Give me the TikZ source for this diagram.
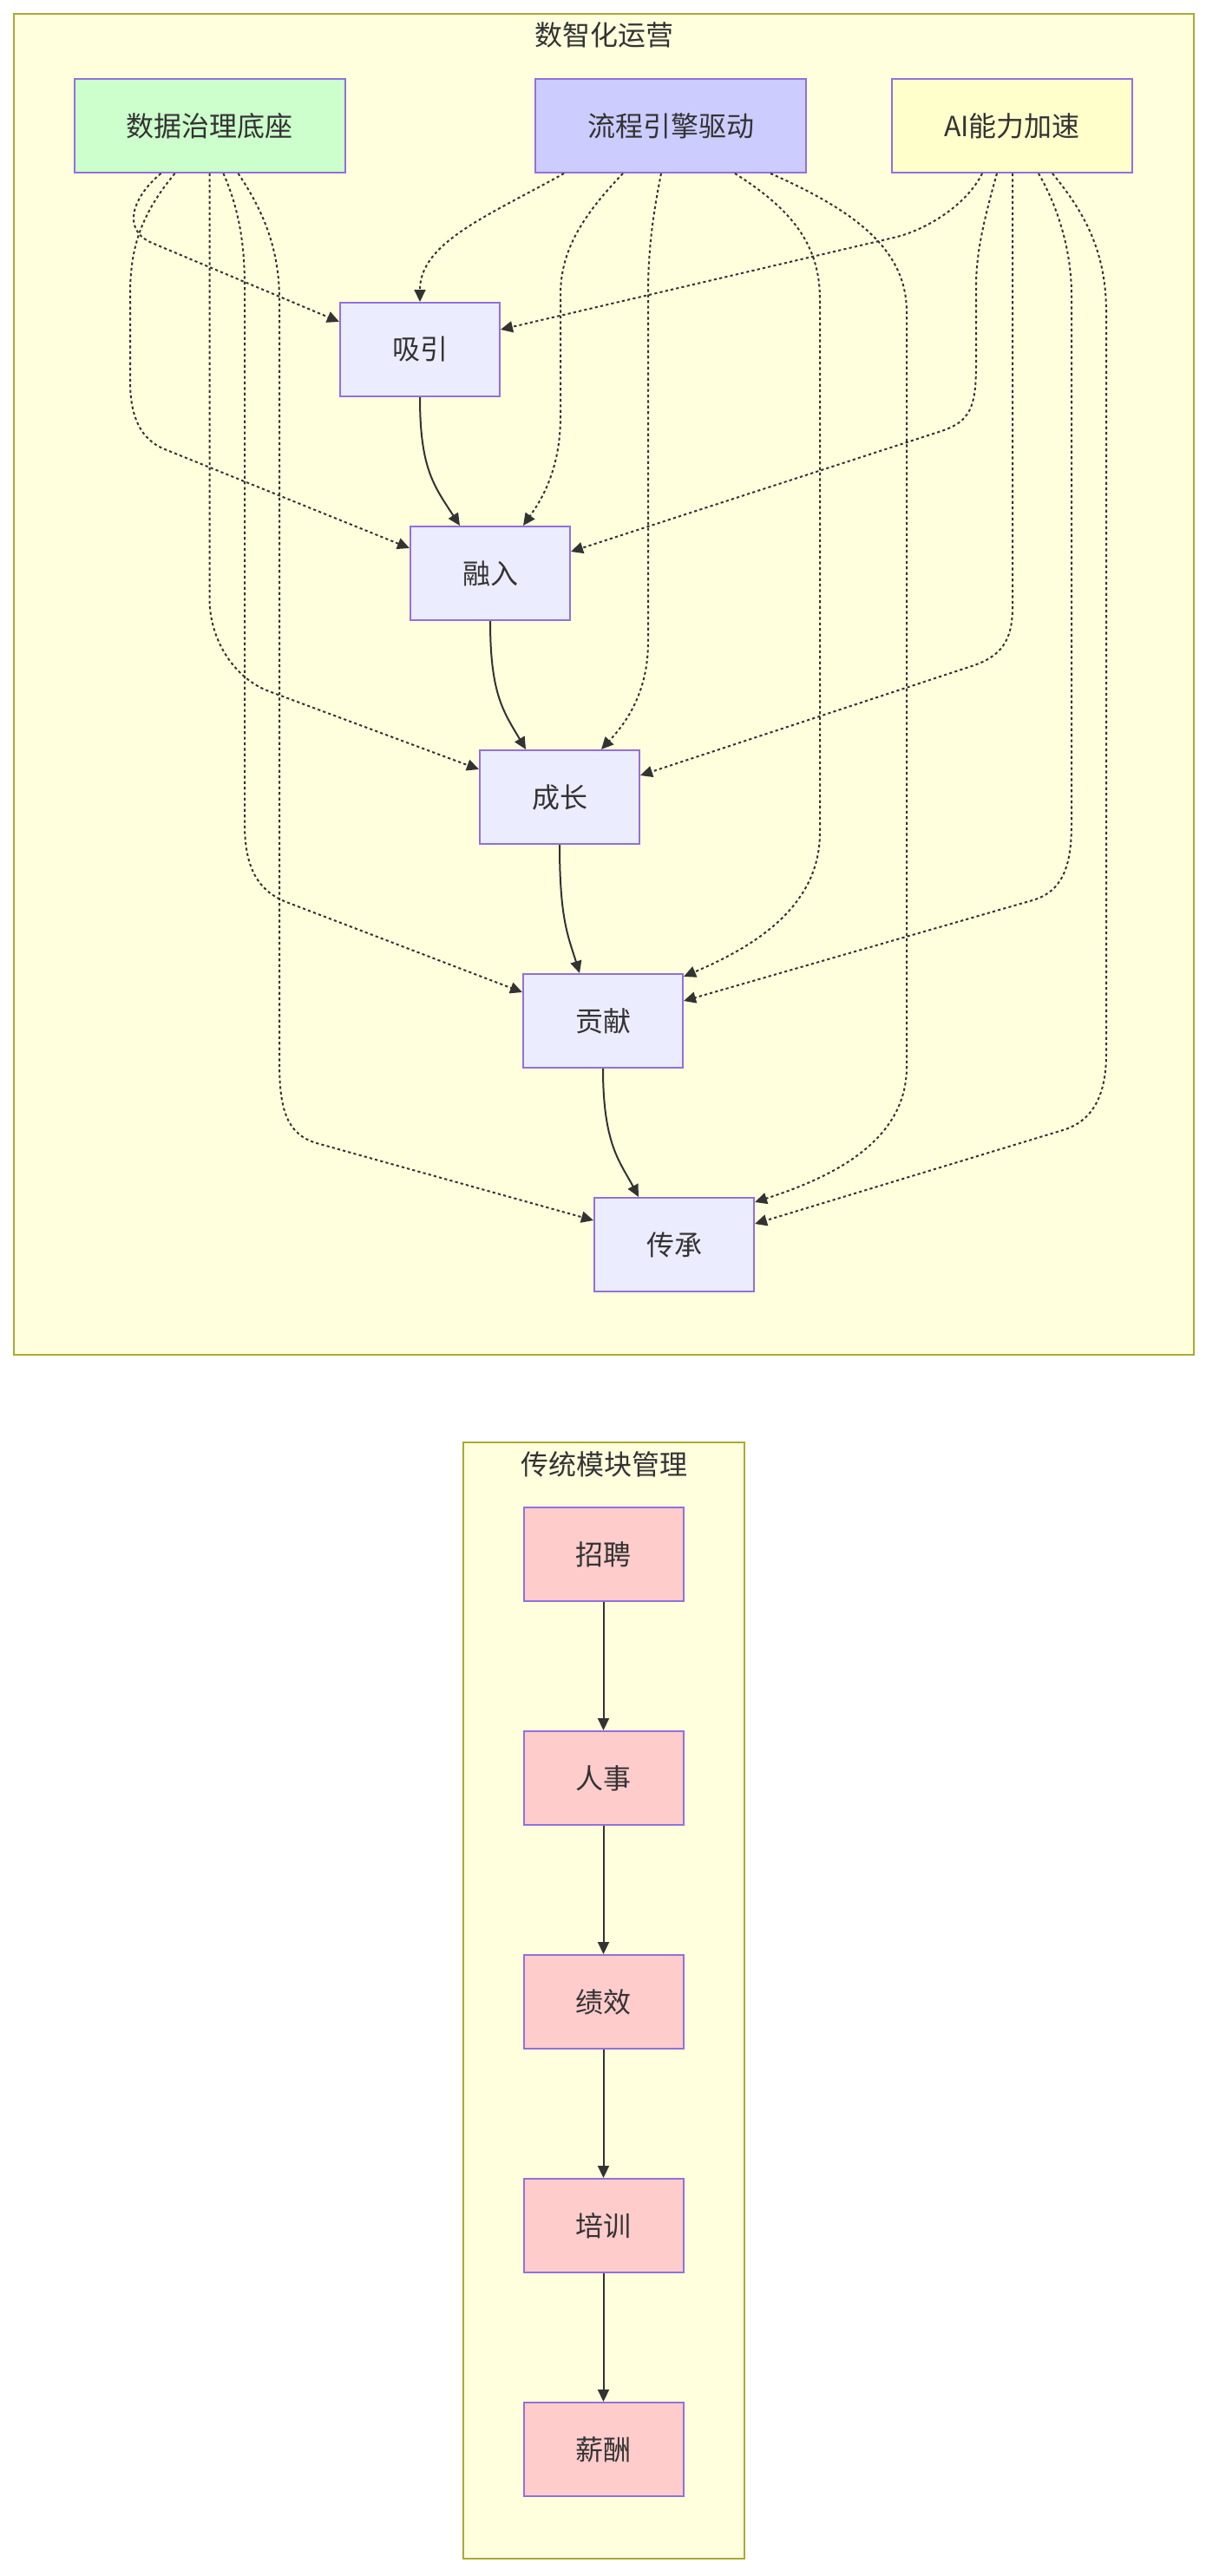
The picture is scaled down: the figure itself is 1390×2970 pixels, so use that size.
\documentclass[tikz,border=0pt]{standalone}
\usepackage{fontspec}
\setmainfont{Noto Sans CJK SC}
\usetikzlibrary{arrows.meta,calc,positioning}

\definecolor{clusterfill}{HTML}{FFFFDE}
\definecolor{clusterline}{HTML}{AAAA33}
\definecolor{nodeline}{HTML}{9370DB}
\definecolor{stagefill}{HTML}{ECECFF}
\definecolor{basefill}{HTML}{CCFFCC}
\definecolor{enginefill}{HTML}{CCCCFF}
\definecolor{aifill}{HTML}{FFFFCC}
\definecolor{modulefill}{HTML}{FFCCCC}
\definecolor{inkgray}{HTML}{333333}

\tikzset{
  cluster/.style={draw=clusterline, fill=clusterfill, line width=1pt},
  clustertitle/.style={text=inkgray, font=\fontsize{16pt}{19pt}\selectfont, inner sep=0pt},
  stage/.style={draw=nodeline, fill=stagefill, line width=1pt, minimum width=92pt,
    minimum height=54pt, inner sep=0pt, text=inkgray, font=\fontsize{16pt}{19pt}\selectfont},
  driver/.style={stage, minimum width=156pt},
  module/.style={stage, fill=modulefill},
  solidlink/.style={draw=inkgray, line width=1pt, -{Triangle[length=7pt,width=6.5pt]}},
  dotlink/.style={solidlink, dash pattern=on 1.6pt off 1.6pt}
}

\begin{document}
\begin{tikzpicture}[x=0.5pt, y=-0.5pt]
  \useasboundingbox (0,0) rectangle (1390,2970);

  % Draw the two cluster frames with their titles
  \draw[cluster] (16,16) rectangle (1376,1562);
  \draw[cluster] (534,1663) rectangle (858,2950);
  \node[clustertitle] (topTitle) at (696,40) {数智化运营};
  \node[clustertitle] (bottomTitle) at (696,1688) {传统模块管理};

  % The three drivers on top
  \node[driver, fill=basefill] (base) at (241.5,145) {数据治理底座};
  \node[driver, fill=enginefill] (engine) at (773,145) {流程引擎驱动};
  \node[driver, fill=aifill, minimum width=138.5pt] (ai) at (1166.5,145) {AI能力加速};

  % The five stages
  \node[stage] (xy) at (484,403) {吸引};
  \node[stage] (rr) at (565,661) {融入};
  \node[stage] (cz) at (645,919) {成长};
  \node[stage] (gx) at (695,1177) {贡献};
  \node[stage] (cc) at (777,1435) {传承};

  % The traditional modules, stacked below each other
  \node[module] (zp) at (695.5,1792) {招聘};
  \node[module, below=74pt of zp] (rs) {人事};
  \node[module, below=74pt of rs] (jx) {绩效};
  \node[module, below=74pt of jx] (px) {培训};
  \node[module, below=74pt of px] (xc) {薪酬};

  % Dotted links from the data base
  \draw[dotlink] ($(base.south)+(-56,0)$) .. controls (155,225) and (138,264) .. (175,280) -- ($(xy.north west)+(0,23)$);
  \draw[dotlink] ($(base.south)+(-40,0)$) .. controls (160,250) and (150,290) .. (150,340) -- (150,440)
    .. controls (150,480) and (162,507) .. (190,518) -- ($(rr.north west)+(0,26)$);
  \draw[dotlink] (base.south) -- (241.5,690) .. controls (241.5,740) and (272,783) .. (310,797) -- ($(cz.north west)+(0,23)$);
  \draw[dotlink] ($(base.south)+(16,0)$) .. controls (275,240) and (282,280) .. (282,330) -- (282,950)
    .. controls (282,1000) and (297,1027) .. (330,1040) -- ($(gx.north west)+(0,22)$);
  \draw[dotlink] ($(base.south)+(33,0)$) .. controls (305,245) and (322,290) .. (322,345) -- (322,1225)
    .. controls (322,1280) and (331,1308) .. (365,1318) -- ($(cc.north west)+(0,27)$);

  % Dotted links from the process engine
  \draw[dotlink] ($(engine.south)+(-123,0)$) .. controls (560,250) and (484,280) .. (xy.north);
  \draw[dotlink] ($(engine.south)+(-55,0)$) .. controls (670,250) and (646,290) .. (646,340) -- (646,480)
    .. controls (646,540) and (625,575) .. ($(rr.north)+(38,0)$);
  \draw[dotlink] ($(engine.south)+(-11,0)$) .. controls (752,250) and (747,290) .. (747,340) -- (747,740)
    .. controls (747,800) and (720,835) .. ($(cz.north)+(48,0)$);
  \draw[dotlink] ($(engine.south)+(74,0)$) .. controls (910,240) and (945,280) .. (945,345) -- (945,960)
    .. controls (945,1050) and (860,1095) .. ($(gx.north east)+(0,4)$);
  \draw[dotlink] ($(engine.south)+(115,0)$) .. controls (990,245) and (1045,290) .. (1045,360) -- (1045,1230)
    .. controls (1045,1320) and (950,1360) .. ($(cc.north east)+(0,6)$);

  % Dotted links from the AI driver
  \draw[dotlink] ($(ai.south)+(-34.5,0)$) .. controls (1115,235) and (1069,265) .. (1030,274) -- ($(xy.north east)+(0,32)$);
  \draw[dotlink] ($(ai.south)+(-17.5,0)$) .. controls (1135,250) and (1125,290) .. (1125,330) -- (1125,420)
    .. controls (1125,470) and (1118,486) .. (1085,497) -- ($(rr.north east)+(0,30)$);
  \draw[dotlink] ($(ai.south)+(0.5,0)$) -- (1167,700) .. controls (1167,740) and (1153,757) .. (1120,768) -- ($(cz.north east)+(0,30)$);
  \draw[dotlink] ($(ai.south)+(30.5,0)$) .. controls (1220,240) and (1235,290) .. (1235,340) -- (1235,950)
    .. controls (1235,1000) and (1224,1028) .. (1190,1038) -- ($(gx.north east)+(0,32)$);
  \draw[dotlink] ($(ai.south)+(46.5,0)$) .. controls (1250,245) and (1275,290) .. (1275,360) -- (1275,1215)
    .. controls (1275,1265) and (1258,1293) .. (1225,1303) -- ($(cc.north east)+(0,31)$);

  % Solid links between the stages
  \draw[solidlink] (xy.south) .. controls (484,540) and (500,560) .. ($(rr.north)+(-35,0)$);
  \draw[solidlink] (rr.south) .. controls (565,800) and (580,820) .. ($(cz.north)+(-39,0)$);
  \draw[solidlink] (cz.south) .. controls (645,1060) and (655,1080) .. ($(gx.north)+(-27,0)$);
  \draw[solidlink] (gx.south) .. controls (695,1320) and (715,1340) .. ($(cc.north)+(-41,0)$);

  % Straight links between the modules
  \foreach \from/\to in {zp/rs, rs/jx, jx/px, px/xc}
    \draw[solidlink] (\from.south) -- (\to.north);
\end{tikzpicture}
\end{document}
